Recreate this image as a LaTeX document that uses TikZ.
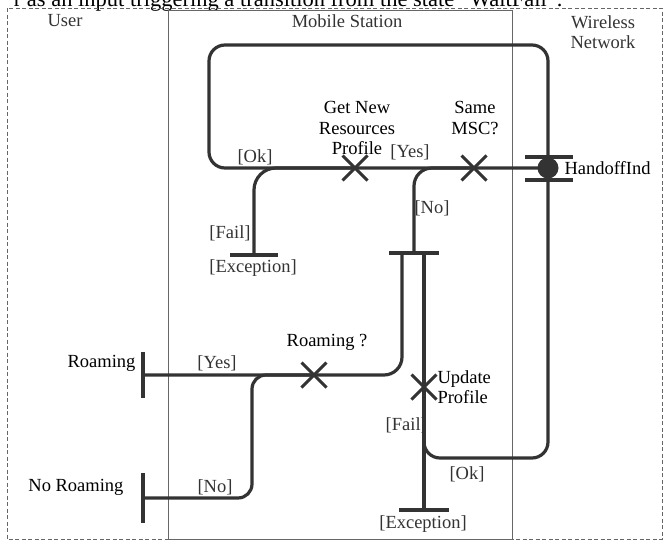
\documentclass[tikz,border=0pt]{standalone}
\usepackage{fontspec}
\setmainfont{Liberation Serif}
\usepackage{tikz}
\usetikzlibrary{shapes.misc,positioning}

\definecolor{ink}{gray}{0.2}
\definecolor{rule}{gray}{0.4}

\begin{document}
\begin{tikzpicture}[
  x=1pt, y=-1pt,
  font=\fontsize{18.5}{20.5}\selectfont,
  lane/.style={draw=rule, line width=.8pt},
  frame/.style={draw=rule, line width=.8pt, dash pattern=on 4pt off 2.5pt},
  flow/.style={draw=ink, line width=3.2pt, rounded corners=16pt},
  choice/.style={draw=ink, cross out, line width=3pt, minimum size=22pt, inner sep=0pt},
  hbar/.style={fill=ink, minimum width=48pt, minimum height=3.4pt, inner sep=0pt},
  vbar/.style={fill=ink, minimum width=3.4pt, minimum height=48pt, inner sep=0pt},
  input/.style={circle, fill=ink, minimum size=21pt, inner sep=0pt},
  guard/.style={text=ink, inner sep=1pt},
  lanetitle/.style={text=ink, align=center}
]
  \useasboundingbox (0,0) rectangle (665,549);

  % Caption line cut off at the top.
  \node[anchor=base east, font=\fontsize{22.5}{24}\selectfont] (caption) at (566,6)
    {r as an input triggering a transition from the state “WaitFail”.};

  % Swim lanes.
  \draw[frame] (7,8) rectangle (662,539);
  \draw[lane, fill=white] (168,10) rectangle (512,539);
  \node[lanetitle] (user-title) at (65,21) {User};
  \node[lanetitle] (ms-title) at (347,21) {Mobile Station};
  \node[lanetitle] (wn-title) at (603,32) {Wireless\\Network};

  % Decisions, inputs and outputs.
  \node[input] (handoff) at (548,168) {};
  \node[hbar] (handoff-top) at (549,157) {};
  \node[hbar] (handoff-bot) at (549,180) {};
  \node[choice] (samemsc) at (474,168) {};
  \node[choice] (getnew) at (355,168) {};
  \node[choice] (roamq) at (314,375) {};
  \node[choice] (update) at (424,387) {};
  \node[hbar] (failbar) at (254,255) {};
  \node[hbar, minimum width=50pt] (nobar) at (414,253) {};
  \node[hbar, minimum width=50pt] (excbar) at (424,510) {};
  \node[vbar, minimum height=46pt] (roambar) at (143,375) {};
  \node[vbar, minimum height=50pt] (noroambar) at (143,498) {};
  \coordinate (nobar-left) at (402,253);
  \coordinate (nobar-right) at (424,253);

  % Flow lines.
  \draw[flow] (update.center) |- (548,458) -- (548,45) -| (209,168) -- (handoff.center);
  \draw[flow] (nobar-right) -- (excbar.center);
  \draw[flow, rounded corners=18pt] (nobar.center) |- (samemsc.center);
  \draw[flow, rounded corners=22pt] (failbar.center) |- (getnew.center);
  \draw[flow, rounded corners=18pt] (roambar.center) -| (nobar-left);
  \draw[flow, rounded corners=14pt] (noroambar.center) -| (252,375) -- (roamq.center);

  % Labels.
  \node[anchor=west] (handoff-label) at (561,168) {HandoffInd};
  \node[align=center] (getnew-label) at (357,128) {Get New\\Resources\\Profile};
  \node[align=center] (samemsc-label) at (475,118) {Same\\MSC?};
  \node (roamq-label) at (327,342) {Roaming ?};
  \node[align=left, anchor=west] (update-label) at (434,387) {Update\\Profile};
  \node[guard] (ok-top) at (255,157) {[Ok]};
  \node[guard] (yes-top) at (410,152) {[Yes]};
  \node[guard] (no-top) at (432,208) {[No]};
  \node[guard] (fail-top) at (230,233) {[Fail]};
  \node[guard] (exc-top) at (253,268) {[Exception]};
  \node[anchor=east] (roam-label) at (139,363) {Roaming};
  \node[anchor=east] (noroam-label) at (127,487) {No Roaming};
  \node[guard] (yes-roam) at (217,363) {[Yes]};
  \node[guard] (no-roam) at (215,487) {[No]};
  \node[guard, anchor=east] (fail-upd) at (428,425) {[Fail]};
  \node[guard] (ok-upd) at (467,474) {[Ok]};
  \node[guard] (exc-upd) at (423,524) {[Exception]};
  \draw[flow] (nobar-right) -- (update.center);
\end{tikzpicture}
\end{document}
